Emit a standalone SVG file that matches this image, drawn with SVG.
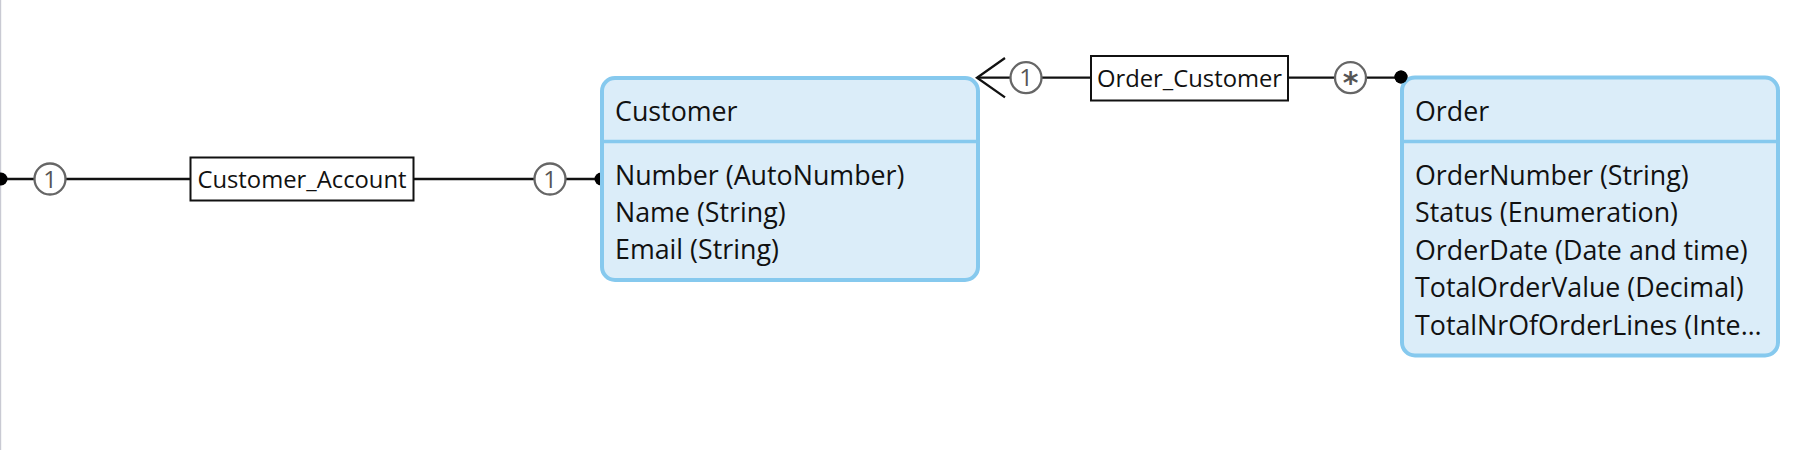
<svg xmlns="http://www.w3.org/2000/svg" width="1819" height="450" viewBox="0 0 1819 450">
<defs>
<style>
.entity{fill:#dbedf9;stroke:#86c9ee;stroke-width:4}
.div{stroke:#86c9ee;stroke-width:3.5}
.t{font-family:"Open Sans","Noto Sans",sans-serif;font-size:26.8px;fill:#111}
.lbl{fill:#fff;stroke:#111;stroke-width:2}
.lt{font-family:"Open Sans","Noto Sans",sans-serif;font-size:23.8px;fill:#111;text-anchor:middle}
.line{stroke:#111;stroke-width:2.3;fill:none}
.mult{fill:#fff;stroke:#666;stroke-width:2.3}
.mt{font-family:"Open Sans","Noto Sans",sans-serif;font-size:24px;fill:#555;text-anchor:middle}
.ast{font-family:"DejaVu Sans",sans-serif;font-size:30px;font-weight:bold;fill:#555;text-anchor:middle}
</style>
</defs>
<rect x="0" y="0" width="1819" height="450" fill="#fff"/>
<rect x="0" y="0" width="1.2" height="450" fill="#c9cad3"/>
<g id="connectors">
  <g id="customer_account">
    <line class="line" x1="0" y1="179" x2="600" y2="179"/>
    <circle cx="1" cy="179" r="6.5" fill="#000"/>
    <circle cx="601" cy="179" r="6.5" fill="#000"/>
    <circle class="mult" cx="50" cy="179" r="15.5"/>
    <text class="mt" x="50" y="187.5">1</text>
    <circle class="mult" cx="550" cy="179" r="15.5"/>
    <text class="mt" x="550" y="187.5">1</text>
    <rect class="lbl" x="190.5" y="157.5" width="223" height="43"/>
    <text class="lt" x="302" y="187.5">Customer_Account</text>
  </g>
  <g id="order_customer">
    <line class="line" x1="977" y1="77.7" x2="1401" y2="77.7"/>
    <polyline class="line" points="1005,58 977,77.7 1005,97.4"/>
    <circle cx="1401" cy="77" r="6.5" fill="#000"/>
    <circle class="mult" cx="1026" cy="77.7" r="15.5"/>
    <text class="mt" x="1026" y="86.2">1</text>
    <circle class="mult" cx="1350.5" cy="77.7" r="15.5"/>
    <text class="ast" x="1350.5" y="93">*</text>
    <rect class="lbl" x="1091" y="56" width="197" height="44.5"/>
    <text class="lt" x="1189.5" y="87">Order_Customer</text>
  </g>
</g>
<g id="Customer">
  <rect class="entity" x="602" y="78" width="376" height="202" rx="13"/>
  <line class="div" x1="602" y1="141.5" x2="978" y2="141.5"/>
  <text class="t" x="615" y="121">Customer</text>
  <text class="t" x="615" y="185">Number (AutoNumber)</text>
  <text class="t" x="615" y="222">Name (String)</text>
  <text class="t" x="615" y="259">Email (String)</text>
</g>
<g id="Order">
  <rect class="entity" x="1402" y="77.5" width="376" height="278" rx="13"/>
  <line class="div" x1="1402" y1="141.5" x2="1778" y2="141.5"/>
  <circle cx="1401" cy="77" r="6.5" fill="#000"/>
  <text class="t" x="1415" y="121">Order</text>
  <text class="t" x="1415" y="184.5">OrderNumber (String)</text>
  <text class="t" x="1415" y="222">Status (Enumeration)</text>
  <text class="t" x="1415" y="259.5">OrderDate (Date and time)</text>
  <text class="t" x="1415" y="297">TotalOrderValue (Decimal)</text>
  <text class="t" x="1415" y="334.5">TotalNrOfOrderLines (Inte…</text>
</g>
</svg>
